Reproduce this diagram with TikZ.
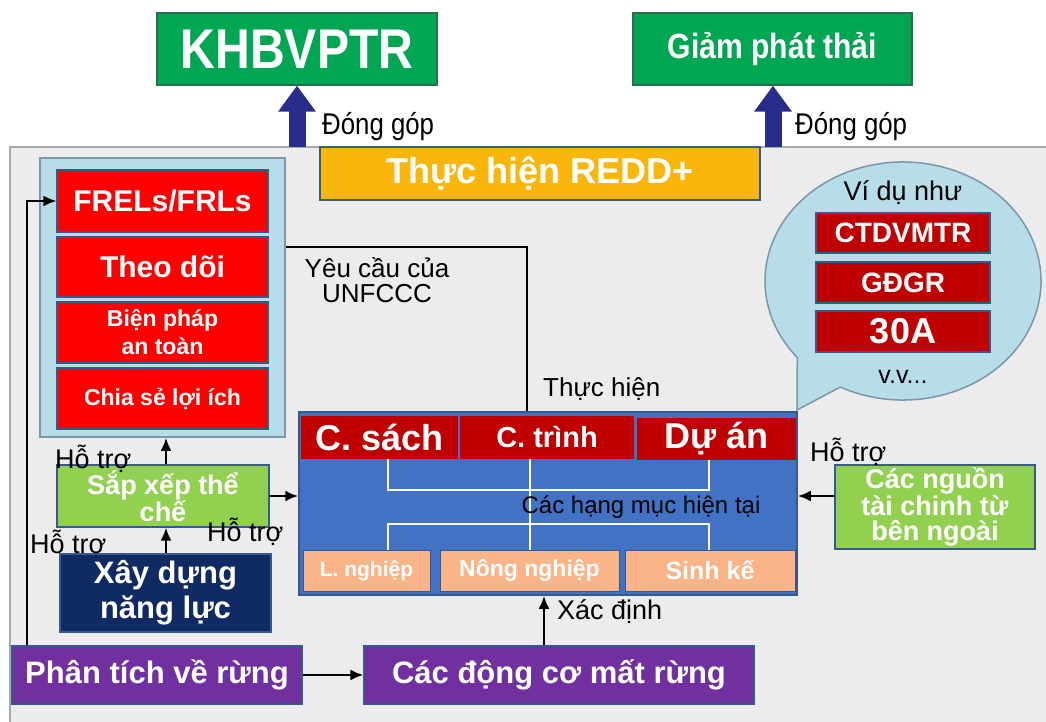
\documentclass[tikz,border=0pt]{standalone}
\usepackage{fontspec}
\setmainfont{Liberation Sans}
\newfontfamily\narrowfont[FakeStretch=0.86]{Liberation Sans}
\usetikzlibrary{arrows.meta}
\newcommand{\fsz}[2]{\fontsize{#1}{#2}\selectfont}

\definecolor{grn}{RGB}{0,166,81}
\definecolor{grnd}{RGB}{40,110,80}
\definecolor{navyarr}{RGB}{40,45,140}
\definecolor{panel}{RGB}{236,236,236}
\definecolor{panelb}{RGB}{165,170,175}
\definecolor{redd}{RGB}{250,182,10}
\definecolor{cyanp}{RGB}{183,222,232}
\definecolor{cyanb}{RGB}{125,150,170}
\definecolor{brred}{RGB}{255,0,0}
\definecolor{dkred}{RGB}{192,0,0}
\definecolor{edgeb}{RGB}{55,90,140}
\definecolor{mainb}{RGB}{66,114,196}
\definecolor{peach}{RGB}{250,180,135}
\definecolor{lgrn}{RGB}{146,208,80}
\definecolor{navy}{RGB}{16,42,100}
\definecolor{purp}{RGB}{112,48,160}

\begin{document}
\begin{tikzpicture}[x=1pt,y=-1pt,
  box/.style={draw=edgeb, line width=1.2pt, inner sep=0pt, align=center, text=white},
  lbl/.style={inner sep=0pt, align=center, text=black, font=\fsz{27}{27}},
  arr/.style={-{Latex[length=13pt,width=11pt]}, line width=2.4pt, black},
  link/.style={line width=2.4pt, black},
  wline/.style={line width=2pt, white},
  fat/.style={line width=17pt, draw=navyarr, -{Triangle[width=36pt,length=26pt]}}]

% page and grey working panel
\fill[white] (0,0) rectangle (1046,722);
\useasboundingbox (0,0) rectangle (1046,722);
\filldraw[fill=panel, draw=panelb, line width=1.5pt] (10,147) rectangle (1056,732);

% top goals
\node[box, fill=grn, draw=grnd, minimum width=280, minimum height=72,
      font=\narrowfont\bfseries\fsz{56}{60}] (khb) at (297,49) {KHBVPTR};
\node[box, fill=grn, draw=grnd, minimum width=279, minimum height=72,
      font=\narrowfont\bfseries\fsz{35}{38}] (gpt) at (772.5,49) {Giảm phát thải};

% REDD+ implementation bar
\node[box, fill=redd, draw=edgeb, minimum width=440, minimum height=53,
      font=\bfseries\fsz{36}{38}] (impl) at (540,173.5) {Thực hiện REDD+};

\coordinate (ax1) at (297,147);
\coordinate (ax2) at (773,147);
\draw[fat] (ax1) -- (ax1 |- khb.south);
\draw[fat] (ax2) -- (ax2 |- gpt.south);
\node[lbl, anchor=west, font=\narrowfont\fsz{30}{30}] (dg1) at (322,127) {Đóng góp};
\node[lbl, anchor=west, font=\narrowfont\fsz{30}{30}] (dg2) at (795,127) {Đóng góp};

% UNFCCC requirements panel
\node[draw=cyanb, fill=cyanp, line width=1.5pt, minimum width=245, minimum height=279,
      inner sep=0pt] (req) at (162.5,297.5) {};
\node[box, fill=brred, minimum width=211, minimum height=62,
      font=\bfseries\fsz{30}{32}] (frels) at (162.5,201) {FRELs/FRLs};
\node[box, fill=brred, minimum width=211, minimum height=60,
      font=\bfseries\fsz{30}{32}] (theo) at (162.5,267) {Theo dõi};
\node[box, fill=brred, minimum width=211, minimum height=61,
      font=\bfseries\fsz{23}{28}] (bien) at (162.5,332.5) {Biện pháp\\an toàn};
\node[box, fill=brred, minimum width=211, minimum height=61,
      font=\bfseries\fsz{23}{26}] (chia) at (162.5,398.5) {Chia sẻ lợi ích};

% current measures block
\node[draw=edgeb, fill=mainb, line width=1.5pt, minimum width=498, minimum height=183,
      inner sep=0pt] (main) at (548,503.5) {};
\node[box, fill=dkred, draw=dkred, minimum width=155, minimum height=41,
      font=\bfseries\fsz{36}{38}] (csach) at (379.5,437.5) {C. sách};
\node[box, fill=dkred, draw=dkred, minimum width=172, minimum height=41,
      font=\bfseries\fsz{29}{31}] (ctrinh) at (547,437.5) {C. trình};
\node[box, fill=dkred, draw=dkred, minimum width=157, minimum height=41,
      font=\bfseries\fsz{36}{38}] (duan) at (716.5,439) {Dự án};
\node[box, fill=peach, draw=edgeb, line width=0.8pt, minimum width=127, minimum height=41,
      font=\bfseries\fsz{21}{23}] (lng) at (366.5,570.5) {L. nghiệp};
\node[box, fill=peach, draw=edgeb, line width=0.8pt, minimum width=179, minimum height=41,
      font=\bfseries\fsz{23}{25}] (nong) at (529.5,570.5) {Nông nghiệp};
\node[box, fill=peach, draw=edgeb, line width=0.8pt, minimum width=170, minimum height=41,
      font=\bfseries\fsz{25}{27}] (sinh) at (710,570.5) {Sinh kế};

\coordinate (w1) at (388,0);
\coordinate (w2) at (530,0);
\coordinate (w3) at (709,0);
\draw[wline] (csach.south -| w1) -- ++(0,31) -| (duan.south -| w3);
\draw[wline] (ctrinh.south -| w2) -- (nong.north -| w2);
\draw[wline] (lng.north -| w1) -- ++(0,-26) -| (sinh.north -| w3);
\node[lbl, font=\fsz{24}{24}] (cur) at (641,507) {Các hạng mục hiện tại};

% UNFCCC link and implementation label
\coordinate (uy) at (0,247);
\coordinate (ux) at (527,0);
\draw[link] (req.east |- uy) -| (main.north -| ux);
\node[lbl, font=\fsz{26}{25}] (unf) at (377,280) {Yêu cầu của\\UNFCCC};
\node[lbl, anchor=west, font=\fsz{26}{26}] (thuc) at (543,389) {Thực hiện};

% examples bubble
\filldraw[fill=cyanp, draw=cyanb, line width=1.5pt]
  (903,281) ++(117:138 and 119) arc[start angle=117, end angle=-220, x radius=138, y radius=119]
  -- (797,410) -- cycle;
\node[lbl, font=\fsz{27}{27}] (vidu) at (903,193) {Ví dụ như};
\node[box, fill=dkred, minimum width=174, minimum height=40,
      font=\bfseries\fsz{28}{30}] (ctd) at (903,233) {CTDVMTR};
\node[box, fill=dkred, minimum width=174, minimum height=41,
      font=\bfseries\fsz{28}{30}] (gdg) at (903,282.5) {GĐGR};
\node[box, fill=dkred, minimum width=174, minimum height=41,
      font=\bfseries\fsz{36}{38}] (a30) at (903,331.5) {30A};
\node[lbl, font=\fsz{25}{25}] (vv) at (903,377) {v.v...};

% external finance
\node[box, fill=lgrn, minimum width=200, minimum height=84,
      font=\bfseries\fsz{27}{25}] (ngoai) at (935,507) {Các nguồn\\tài chinh từ\\bên ngoài};
\coordinate (ny) at (0,496);
\draw[arr] (ngoai.west |- ny) -- (main.east |- ny);
\node[lbl, anchor=west] (h4) at (810,452) {Hỗ trợ};

% institutional arrangements and capacity
\node[box, fill=lgrn, minimum width=212, minimum height=62,
      font=\bfseries\fsz{27}{27}] (sapxep) at (163,496) {Sắp xếp thể\\chế};
\node[box, fill=navy, minimum width=211, minimum height=78,
      font=\bfseries\fsz{31}{35}] (xay) at (165.5,593) {Xây dựng\\năng lực};
\coordinate (vx) at (166,0);
\draw[arr] (sapxep.north -| vx) -- (req.south -| vx);
\draw[arr] (xay.north -| vx) -- (sapxep.south -| vx);
\draw[arr] (sapxep.east) -- (main.west |- sapxep.east);
\node[lbl, anchor=west] (h1) at (55,459) {Hỗ trợ};
\node[lbl, anchor=west] (h2) at (207,532) {Hỗ trợ};
\node[lbl, anchor=west] (h3) at (30,544) {Hỗ trợ};

% forest analysis and drivers
\node[box, fill=purp, minimum width=290, minimum height=58,
      font=\bfseries\fsz{31}{33}] (phan) at (157,675) {Phân tích về rừng};
\node[box, fill=purp, minimum width=390, minimum height=58,
      font=\bfseries\fsz{31}{33}] (dong) at (559,675) {Các động cơ mất rừng};
\draw[arr] (phan.east) -- (dong.west);
\coordinate (dx) at (544,0);
\draw[arr] (dong.north -| dx) -- (main.south -| dx);
\node[lbl, anchor=west] (xd) at (557,612) {Xác định};

\coordinate (lx) at (27,0);
\draw[arr] (phan.north -| lx) |- (frels.west);
\end{tikzpicture}
\end{document}
